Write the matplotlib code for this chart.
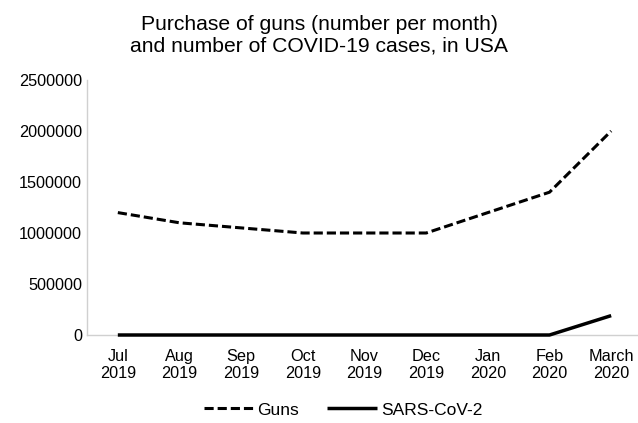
import matplotlib
matplotlib.use("Agg")
import matplotlib.pyplot as plt

months = ["Jul\n2019", "Aug\n2019", "Sep\n2019", "Oct\n2019", "Nov\n2019",
          "Dec\n2019", "Jan\n2020", "Feb\n2020", "March\n2020"]
guns = [1200000, 1100000, 1050000, 1000000, 1000000, 1000000, 1200000, 1400000, 2000000]
sars = [0, 0, 0, 0, 0, 0, 0, 0, 190000]
yticks = [0, 500000, 1000000, 1500000, 2000000, 2500000]

plt.rcParams['font.family'] = ['Liberation Sans', 'DejaVu Sans']
fig = plt.figure(figsize=(6.38, 4.23), dpi=100)
ax = fig.add_axes([87/638, 1-335/423, (642-87)/638, (335-80)/423])
x = list(range(len(months)))
ax.plot(x, guns, color='black', lw=2.2, ls=(0, (3.0, 1.3)), label='Guns', zorder=5)
ax.plot(x, sars, color='black', lw=2.5, label='SARS-CoV-2', solid_capstyle='butt',
        zorder=5, clip_on=False)
ax.set_xlim(-0.5, len(months) - 0.5)
ax.set_ylim(0, 2500000)
ax.set_yticks(yticks)
ax.set_yticklabels([str(v) for v in yticks], fontsize=11.7)
ax.set_xticks(x)
ax.set_xticklabels(months, fontsize=11.7, linespacing=1.2)
ax.tick_params(axis='both', length=0)
ax.tick_params(axis='x', pad=10)
ax.tick_params(axis='y', pad=3.5)
for s in ['top', 'right']:
    ax.spines[s].set_visible(False)
for s in ['left', 'bottom']:
    ax.spines[s].set_color('#d0d0d0')
    ax.spines[s].set_linewidth(1.0)
fig.text(0.5, 1-35/423, "Purchase of guns (number per month)\nand number of COVID-19 cases, in USA",
         ha='center', va='center', fontsize=15.2, linespacing=1.2)
fig.legend(loc='center', bbox_to_anchor=(343/638, 1-410/423), ncol=2, frameon=False,
           fontsize=12.5, handlelength=2.9, columnspacing=1.6, handletextpad=0.2)
fig.savefig("out.png", dpi=100)
